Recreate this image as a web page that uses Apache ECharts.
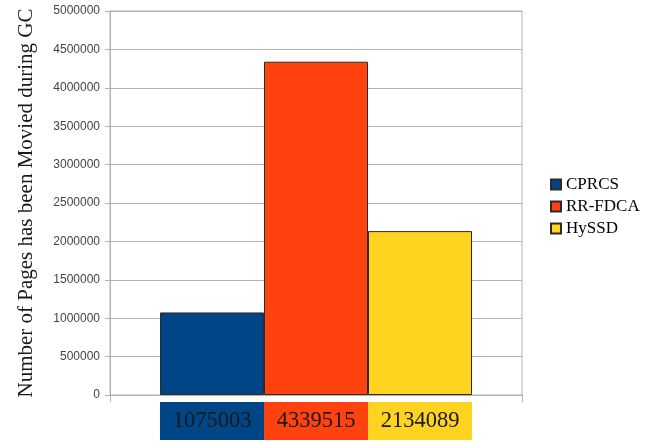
<!DOCTYPE html>
<html>
<head>
<meta charset="utf-8">
<script src="https://cdn.jsdelivr.net/npm/echarts@6/dist/echarts.min.js"></script>
<style>
  html, body { margin: 0; padding: 0; background: #fff; }
  #main { width: 654px; height: 441px; }
</style>
</head>
<body>
<div id="main"></div>
<script>
// 数据
const seriesNames = ["CPRCS", "RR-FDCA", "HySSD"];
const pagesMoved = [1075003, 4339515, 2134089];
const seriesColors = ["#004586", "#ff420e", "#ffd320"];
const yMax = 5000000;
const yStep = 500000;

const chart = echarts.init(document.getElementById("main"));

const gridLeft = 110, gridRight = 132;

// 柱状图 + 下方数据表
const series = [];
seriesNames.forEach((name, i) => {
    series.push({
        name: name,
        type: "bar",
        xAxisIndex: 0,
        yAxisIndex: 0,
        barWidth: 104,
        barGap: "0%",
        itemStyle: { color: seriesColors[i], borderColor: "#2b2b2b", borderWidth: 1 },
        data: [pagesMoved[i]],
    });
    // 表格单元格
    series.push({
        name: name,
        type: "bar",
        xAxisIndex: 1,
        yAxisIndex: 1,
        barWidth: 104,
        barGap: "0%",
        silent: true,
        itemStyle: { color: seriesColors[i] },
        label: {
            show: true,
            position: "inside",
            formatter: () => String(pagesMoved[i]),
            fontFamily: "Liberation Serif",
            fontSize: 22.5,
            color: "#1a1a1a",
        },
        data: [1],
    });
});

chart.setOption({
    animation: false,
    grid: [
        { left: gridLeft, right: gridRight, top: 11, bottom: 46, outerBoundsMode: "none",
          show: true, borderColor: "#b3b3b3", borderWidth: 1 },
        { left: gridLeft, right: gridRight, top: 402, height: 38, outerBoundsMode: "none" },
    ],
    legend: {
        data: seriesNames,
        orient: "vertical",
        left: 545,
        top: 171,
        itemWidth: 10,
        itemHeight: 10,
        itemGap: 5,
        icon: "rect",
        textStyle: { fontFamily: "Liberation Serif", fontSize: 17, color: "#000", lineHeight: 17 },
    },
    xAxis: [
        {
            type: "category",
            gridIndex: 0,
            data: [""],
            axisLine: { lineStyle: { color: "#b3b3b3" } },
            axisTick: { show: true, length: 7, lineStyle: { color: "#b3b3b3" } },
            axisLabel: { show: false },
        },
        {
            type: "category",
            gridIndex: 1,
            data: [""],
            show: false,
        },
    ],
    yAxis: [
        {
            type: "value",
            gridIndex: 0,
            min: 0,
            max: yMax,
            interval: yStep,
            name: "Number of Pages has been Movied during GC",
            nameLocation: "middle",
            nameGap: 73,
            nameTextStyle: { fontFamily: "Liberation Serif", fontSize: 21, color: "#1a1a1a" },
            axisLine: { show: true, lineStyle: { color: "#b3b3b3" } },
            axisTick: { show: true, length: 5, lineStyle: { color: "#b3b3b3" } },
            axisLabel: { fontFamily: "Liberation Sans", fontSize: 12, color: "#444", margin: 10,
                         formatter: (v) => String(v) },
            splitLine: { lineStyle: { color: "#b3b3b3" } },
        },
        {
            type: "value",
            gridIndex: 1,
            min: 0,
            max: 1,
            show: false,
        },
    ],
    series: series,
});
</script>
</body>
</html>
